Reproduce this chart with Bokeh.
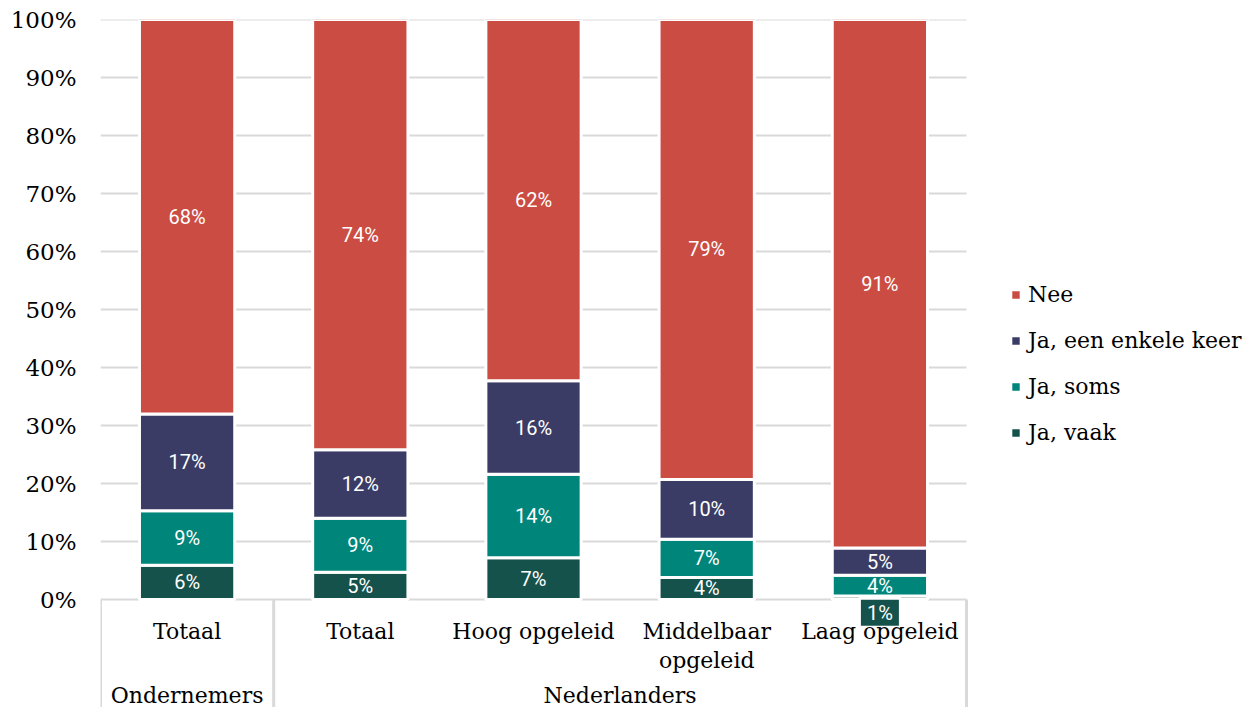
import numpy as np
from bokeh.plotting import figure
from bokeh.models import (ColumnDataSource, Range1d, FixedTicker, PrintfTickFormatter,
                          Legend, LegendItem)
from bokeh.core.properties import value
from bokeh.embed import file_html
from bokeh.resources import INLINE

# ---------------- data ----------------
group_names = ["Ondernemers", "Nederlanders"]
group_sizes = [1, 4]
categories = ["Totaal", "Totaal", "Hoog opgeleid", "Middelbaar\nopgeleid", "Laag opgeleid"]
series = ["Ja, vaak", "Ja, soms", "Ja, een enkele keer", "Nee"]
ja_vaak = [5.9, 4.7, 7.2, 3.8, 0.6]
ja_soms = [9.4, 9.3, 14.4, 6.6, 3.6]
ja_enkele = [16.7, 11.8, 16.1, 10.3, 4.7]
nee = [68.0, 74.2, 62.3, 79.3, 91.1]
y_ticks = [0, 10, 20, 30, 40, 50, 60, 70, 80, 90, 100]
colors = ["#16524C", "#00857A", "#3A3C66", "#CB4C43"]

SERIF = "DejaVu Serif"
SANS = "Roboto"

# ---------------- layout constants ----------------
W, H = 1244, 707
LEFT, TOP = 100, 19
COL_PX = 173.2          # width of one category column in pixels
PX_PER_PCT = 5.8        # vertical pixels per percent
ZERO_Y = 599            # pixel row of the 0% line

n = len(categories)
xs = np.arange(n) + 0.5
values = [ja_vaak, ja_soms, ja_enkele, nee]
y_min = -(H - ZERO_Y) / PX_PER_PCT
x_max = (W - LEFT) / COL_PX

src = ColumnDataSource(dict(x=xs, **{s: v for s, v in zip(series, values)}))

p = figure(width=W, height=H, output_backend="svg", toolbar_location=None,
           x_range=Range1d(0, x_max), y_range=Range1d(y_min, 100),
           min_border_left=LEFT, min_border_right=0, min_border_top=TOP,
           min_border_bottom=0)
p.outline_line_color = None
p.background_fill_color = "white"
p.border_fill_color = "white"

# gridlines limited to the category area
p.segment(x0=[0] * len(y_ticks), y0=y_ticks, x1=[n] * len(y_ticks), y1=y_ticks,
          line_color="#D9D9D9", line_width=2)

renderers = p.vbar_stack(series, x="x", width=0.55, source=src, color=colors,
                         line_color="white", line_width=3)

# y axis
p.yaxis.ticker = FixedTicker(ticks=y_ticks)
p.yaxis.formatter = PrintfTickFormatter(format="%d%%")
p.yaxis.axis_line_color = None
p.yaxis.major_tick_line_color = None
p.yaxis.minor_tick_line_color = None
p.yaxis.major_label_standoff = 18
p.yaxis.major_label_text_font = SERIF
p.yaxis.major_label_text_font_size = "23px"
p.yaxis.major_label_text_color = "#000000"
p.xaxis.visible = False
p.xgrid.visible = False
p.ygrid.visible = False

# data labels
lx, ly, lt, lc, small = [], [], [], [], []
for k, vals in enumerate(values):
    bottoms = np.sum(values[:k], axis=0) if k > 0 else np.zeros(n)
    for i in range(n):
        v = vals[i]
        lx.append(xs[i])
        lt.append(f"{round(v)}%")
        lc.append(colors[k])
        if v >= 2:
            ly.append(bottoms[i] + v / 2)
            small.append(False)
        else:
            ly.append(-2.3)
            small.append(True)
lab = ColumnDataSource(dict(x=lx, y=ly, text=lt, color=lc))
sm = ColumnDataSource(dict(x=[a for a, s in zip(lx, small) if s],
                           y=[a for a, s in zip(ly, small) if s],
                           color=[a for a, s in zip(lc, small) if s]))

# hierarchical category axis drawn below the zero line
sep_x = [0] + list(np.cumsum(group_sizes))
p.segment(x0=sep_x, y0=[0] * len(sep_x), x1=sep_x, y1=[y_min] * len(sep_x),
          line_color="#D9D9D9", line_width=3)
p.rect(x="x", y="y", width=41, height=29, width_units="screen", height_units="screen",
       fill_color="color", line_color="white", line_width=3, source=sm)
p.text(x="x", y="y", text="text", source=lab, text_color="white",
       text_font=value(SANS), text_font_size="20px",
       text_align="center", text_baseline="middle")

p.text(x=xs, y=[-3.35] * n, text=categories, text_font=value(SERIF),
       text_font_size="22px", text_color="#000000", text_align="center",
       text_baseline="top", text_line_height=1.16)
g_centers = []
start = 0
for s in group_sizes:
    g_centers.append(start + s / 2)
    start += s
p.text(x=g_centers, y=[-16.6] * len(group_names), text=group_names,
       text_font=value(SERIF), text_font_size="22px", text_color="#000000",
       text_align="center", text_baseline="middle")

legend = Legend(items=[LegendItem(label=s, renderers=[r])
                       for s, r in reversed(list(zip(series, renderers)))])
legend.location = (909, 262)
legend.label_text_font = SERIF
legend.label_text_font_size = "22px"
legend.label_text_color = "#000000"
legend.glyph_width = 13
legend.glyph_height = 13
legend.label_standoff = 6
legend.spacing = 21
legend.label_height = 24
legend.padding = 0
legend.margin = 0
legend.border_line_color = None
legend.background_fill_alpha = 0
p.add_layout(legend, "center")

open("out.html", "w").write(file_html(p, INLINE))
